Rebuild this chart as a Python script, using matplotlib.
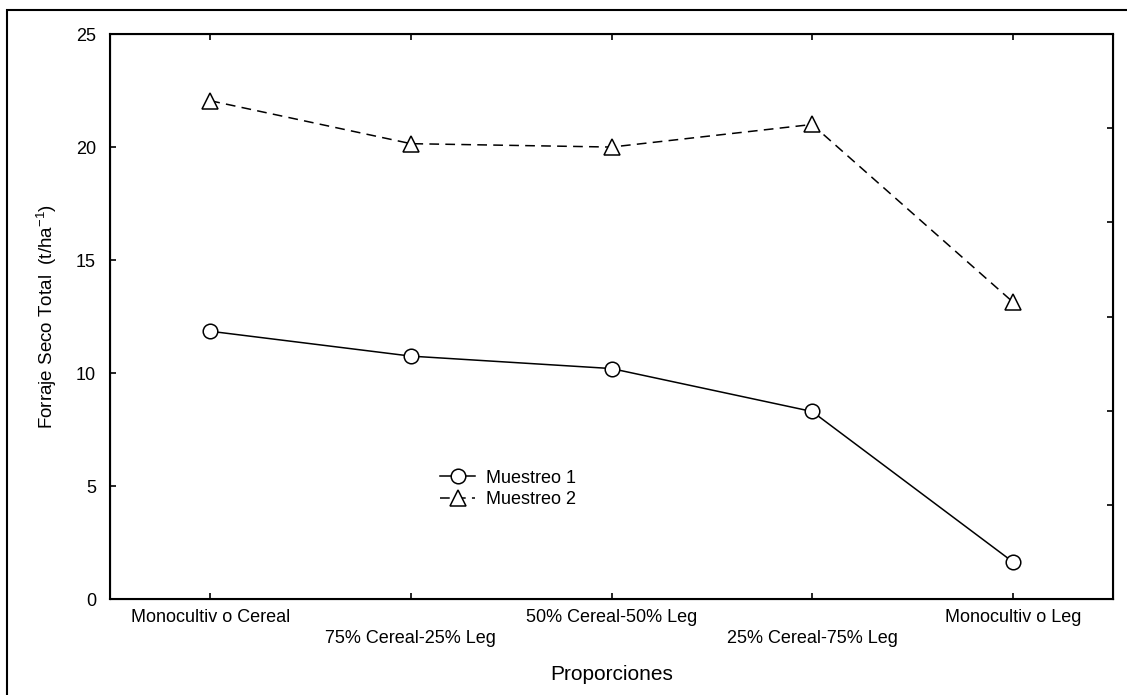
import numpy as np
import matplotlib
matplotlib.use("Agg")
import matplotlib.pyplot as plt
from matplotlib.patches import Rectangle

plt.rcParams['font.family'] = ['Liberation Sans', 'DejaVu Sans']
plt.rcParams['lines.scale_dashes'] = False

categorias = ["Monocultiv o Cereal", "75% Cereal-25% Leg", "50% Cereal-50% Leg",
              "25% Cereal-75% Leg", "Monocultiv o Leg"]
muestreo1 = [11.85, 10.75, 10.2, 8.3, 1.65]
muestreo2 = [22.05, 20.15, 20.0, 21.0, 13.15]

fig = plt.figure(figsize=(11.27, 6.95), dpi=100)
ax = fig.add_axes([0.0976, 0.138, 0.89, 0.813])

x = np.arange(len(categorias))
ax.plot(x, muestreo1, color='black', lw=1.1, marker='o', markersize=10.5,
        markerfacecolor='white', markeredgecolor='black', markeredgewidth=1.1,
        label='Muestreo 1')
ax.plot(x, muestreo2, color='black', lw=1.1, dashes=(7, 4.5), marker='^', markersize=11,
        markerfacecolor='white', markeredgecolor='black', markeredgewidth=1.1,
        label='Muestreo 2')

ax.set_xlim(-0.5, len(categorias) - 0.5)
ax.set_ylim(0, 25)
ax.set_yticks([0, 5, 10, 15, 20, 25])
ax.set_xticks(x)
# labels alternate between two rows
etiquetas = [c if i % 2 == 0 else "\n" + c for i, c in enumerate(categorias)]
ax.set_xticklabels(etiquetas, fontsize=13, linespacing=1.35)
ax.tick_params(axis='x', direction='in', top=True, length=4, width=1.2, pad=7)
ax.tick_params(axis='y', direction='in', right=False, length=4, width=1.2, pad=10,
               labelsize=13)
for s in ax.spines.values():
    s.set_linewidth(1.5)

# right axis carries its own unlabeled ticks
ax2 = ax.twinx()
ax2.set_ylim(0, 6)
ax2.set_yticks([1, 2, 3, 4, 5])
ax2.set_yticklabels([])
ax2.tick_params(axis='y', direction='in', length=4, width=1.2)

ax.set_ylabel("Forraje Seco Total  (t/ha$^{\\mathregular{-1}}$)", fontsize=13.5, labelpad=12)
ax.set_xlabel("Proporciones", fontsize=15, labelpad=13)

leg = ax.legend(loc='center left', bbox_to_anchor=(0.329, 0.195), frameon=False,
                fontsize=13, handlelength=1.95, handletextpad=0.6, labelspacing=0.25,
                borderpad=0, borderaxespad=0)

# outer frame around the figure
fig.patches.append(Rectangle((7 / 1127, -0.1), 1.2, 1 - 10 / 695 + 0.1,
                             transform=fig.transFigure, fill=False,
                             edgecolor='black', lw=1.5))

fig.savefig("out.png", dpi=100)
